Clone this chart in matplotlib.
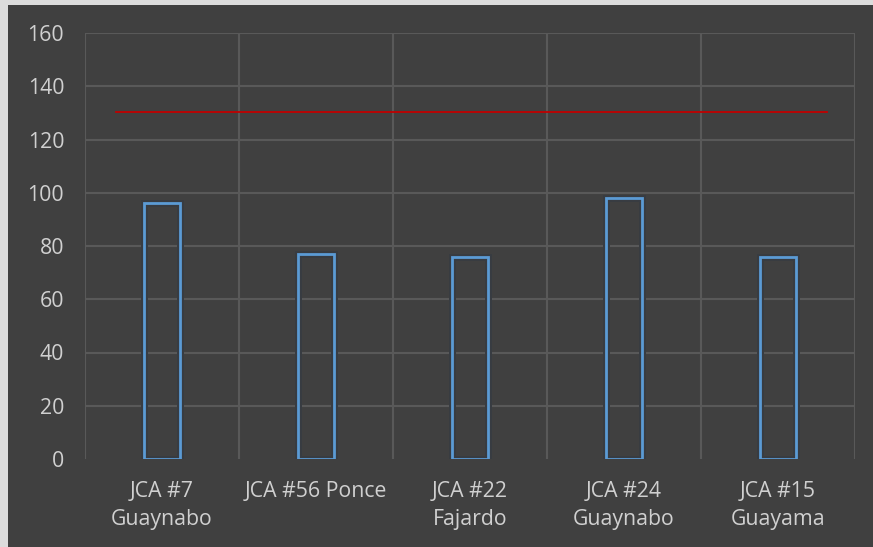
import matplotlib.pyplot as plt
from matplotlib.patches import Rectangle
import numpy as np

categories = ["JCA #7\nGuaynabo", "JCA #56 Ponce", "JCA #22\nFajardo",
              "JCA #24\nGuaynabo", "JCA #15\nGuayama"]
values = [96, 77, 76, 98, 76]
target = 130.3
yticks = [0, 20, 40, 60, 80, 100, 120, 140, 160]

bg = "#404040"
grid_c = "#595959"
text_c = "#d0d0d0"

plt.rcParams['font.family'] = ['Open Sans', 'DejaVu Sans']

fig = plt.figure(figsize=(8.73, 5.47), dpi=100)
fig.patch.set_facecolor("#dcdcdc")
# dark chart area (light border only on top and left)
fig.add_artist(Rectangle((8 / 873, 0), 1, 1 - 5 / 547, transform=fig.transFigure,
                         facecolor=bg, edgecolor="none", zorder=0))

ax = fig.add_axes([85 / 873, 1 - 459 / 547, 770 / 873, 426 / 547])
ax.set_facecolor(bg)

x = np.arange(len(categories))
ax.set_xlim(-0.5, len(categories) - 0.5)
ax.set_ylim(0, 160)

# grid
for yv in yticks[1:]:
    ax.axhline(yv, color=grid_c, lw=1.5, zorder=1)
for xv in np.arange(-0.5, len(categories), 1.0):
    ax.axvline(xv, color=grid_c, lw=1.5, zorder=1)

# soft shadow under the bar outlines
ax.bar(x, values, width=0.24, facecolor="none", edgecolor="#383c42",
       linewidth=5, zorder=2)
ax.bar(x, values, width=0.24, facecolor="none", edgecolor="#5b9bd5",
       linewidth=2, zorder=3)

ax.plot([-0.3, len(categories) - 0.68], [target, target], color="#c00000",
        lw=1.3, zorder=4)

ax.set_yticks(yticks)
ax.set_xticks(x)
ax.set_xticklabels(categories, linespacing=1.45)
ax.tick_params(axis="both", length=0, colors=text_c, labelsize=15.3)
ax.tick_params(axis="x", pad=16)
ax.tick_params(axis="y", pad=15)
for s in ax.spines.values():
    s.set_visible(False)

fig.savefig("out.png", dpi=100, facecolor=fig.get_facecolor())
